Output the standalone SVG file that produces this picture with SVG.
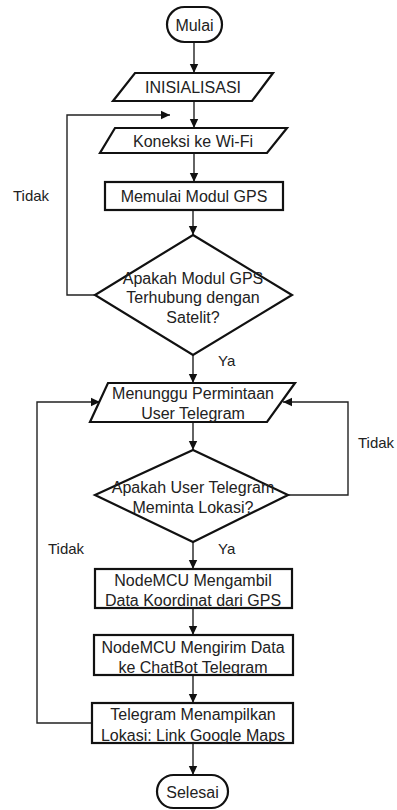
<svg xmlns="http://www.w3.org/2000/svg" width="397" height="810" viewBox="0 0 397 810">
<style>
.n{fill:#fff;stroke:#111;stroke-width:2.2}
.t{font-family:"Liberation Sans",Arial,sans-serif;font-size:16px;fill:#222;text-anchor:middle;dominant-baseline:central}
.l{font-family:"Liberation Sans",Arial,sans-serif;font-size:15px;fill:#222;dominant-baseline:central}
.c{fill:none;stroke:#222;stroke-width:1.4}
</style>
<defs>
<marker id="a" markerUnits="userSpaceOnUse" markerWidth="10" markerHeight="10" refX="9" refY="5" orient="auto">
<path d="M0,0.8 L9,5 L0,9.2 Z" fill="#111"/>
</marker>
</defs>
<rect width="397" height="810" fill="#fff"/>
<g id="connectors">
<line class="c" x1="194" y1="42" x2="194" y2="73" marker-end="url(#a)"/>
<line class="c" x1="194" y1="101" x2="194" y2="128" marker-end="url(#a)"/>
<line class="c" x1="194" y1="153" x2="194" y2="182" marker-end="url(#a)"/>
<line class="c" x1="193" y1="210" x2="193" y2="235" marker-end="url(#a)"/>
<polyline class="c" points="95,295 67,295 67,115 170,115" marker-end="url(#a)"/>
<line class="c" x1="193" y1="355" x2="193" y2="383" marker-end="url(#a)"/>
<line class="c" x1="193" y1="422" x2="193" y2="450" marker-end="url(#a)"/>
<polyline class="c" points="288,495 348,495 348,402 283,402" marker-end="url(#a)"/>
<line class="c" x1="193" y1="542" x2="193" y2="569" marker-end="url(#a)"/>
<line class="c" x1="193" y1="608" x2="193" y2="635" marker-end="url(#a)"/>
<line class="c" x1="193" y1="675" x2="193" y2="703" marker-end="url(#a)"/>
<polyline class="c" points="92,723 37,723 37,402 100,402" marker-end="url(#a)"/>
<line class="c" x1="193" y1="743" x2="193" y2="775" marker-end="url(#a)"/>
<text class="l" x="13" y="195">Tidak</text>
<text class="l" x="218" y="360">Ya</text>
<text class="l" x="358" y="442">Tidak</text>
<text class="l" x="218" y="548">Ya</text>
<text class="l" x="48" y="548">Tidak</text>
</g>
<g id="mulai">
<rect class="n" x="167" y="7" width="55" height="35" rx="17.5"/>
<text class="t" x="194.5" y="25">Mulai</text>
</g>
<g id="inisialisasi">
<polygon class="n" points="135,73 273,73 252,101 113,101"/>
<text class="t" x="193" y="87">INISIALISASI</text>
</g>
<g id="koneksi">
<polygon class="n" points="115,128 287,128 267,153 100,153"/>
<text class="t" x="193" y="141">Koneksi ke Wi-Fi</text>
</g>
<g id="gps">
<rect class="n" x="105" y="182" width="178" height="28"/>
<text class="t" x="194" y="196">Memulai Modul GPS</text>
</g>
<g id="cek-gps">
<polygon class="n" points="193,235 292,295 193,355 95,295"/>
<text class="t" x="193" y="278">Apakah Modul GPS</text>
<text class="t" x="193" y="297">Terhubung dengan</text>
<text class="t" x="193" y="317">Satelit?</text>
</g>
<g id="menunggu">
<polygon class="n" points="108,383 295,383 267,422 90,422"/>
<text class="t" x="193" y="393">Menunggu Permintaan</text>
<text class="t" x="193" y="413">User Telegram</text>
</g>
<g id="cek-user">
<polygon class="n" points="193,450 288,495 193,542 95,495"/>
<text class="t" x="193" y="487">Apakah User Telegram</text>
<text class="t" x="193" y="507">Meminta Lokasi?</text>
</g>
<g id="ambil">
<rect class="n" x="95" y="569" width="197" height="39"/>
<text class="t" x="193" y="580">NodeMCU Mengambil</text>
<text class="t" x="193" y="600">Data Koordinat dari GPS</text>
</g>
<g id="kirim">
<rect class="n" x="94" y="635" width="199" height="40"/>
<text class="t" x="193" y="647">NodeMCU Mengirim Data</text>
<text class="t" x="193" y="667">ke ChatBot Telegram</text>
</g>
<g id="tampil">
<rect class="n" x="92" y="703" width="201" height="40"/>
<text class="t" x="193" y="714">Telegram Menampilkan</text>
<text class="t" x="193" y="735">Lokasi: Link Google Maps</text>
</g>
<g id="selesai">
<rect class="n" x="157" y="775" width="71" height="33" rx="16.5"/>
<text class="t" x="192.5" y="792">Selesai</text>
</g>
</svg>
